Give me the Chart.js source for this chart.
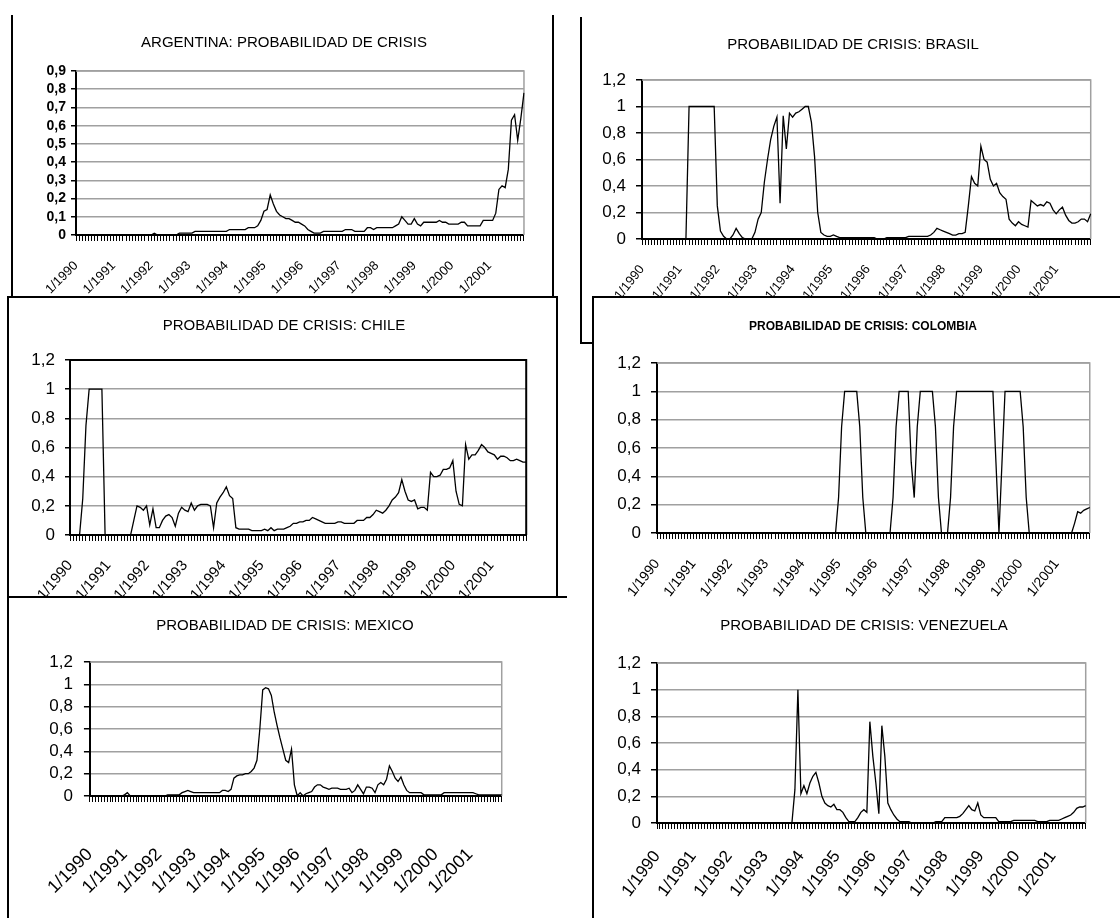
<!DOCTYPE html>
<html lang="es">
<head>
<meta charset="utf-8">
<title>Probabilidad de crisis</title>
<script src="https://cdn.jsdelivr.net/npm/chart.js@4.4.1/dist/chart.umd.min.js"></script>
<style>
  html, body { margin: 0; padding: 0; background: #fff; }
  body { width: 1120px; height: 918px; position: relative; overflow: hidden; }
  .panel { position: absolute; background: #fff; box-sizing: border-box; border: 0 solid #000; overflow: hidden; }
  .panel canvas { position: absolute; }
</style>
</head>
<body>
<script>
// ── Data (monthly, 1/1990 – 12/2001) ───────────────────────────────────────
const years = [1990, 1991, 1992, 1993, 1994, 1995, 1996, 1997, 1998, 1999, 2000, 2001]

const argentina = [
  0, 0, 0, 0, 0, 0, 0, 0, 0, 0, 0, 0,
  0, 0, 0, 0, 0, 0, 0, 0, 0, 0, 0, 0,
  0, 0.01, 0, 0, 0, 0, 0, 0, 0, 0.01, 0.01, 0.01,
  0.01, 0.01, 0.02, 0.02, 0.02, 0.02, 0.02, 0.02, 0.02, 0.02, 0.02, 0.02,
  0.02, 0.03, 0.03, 0.03, 0.03, 0.03, 0.03, 0.04, 0.04, 0.04, 0.05, 0.08,
  0.13, 0.14, 0.22, 0.17, 0.13, 0.11, 0.10, 0.09, 0.09, 0.08, 0.07, 0.07,
  0.06, 0.05, 0.03, 0.02, 0.01, 0.01, 0.01, 0.02, 0.02, 0.02, 0.02, 0.02,
  0.02, 0.02, 0.03, 0.03, 0.03, 0.02, 0.02, 0.02, 0.02, 0.04, 0.04, 0.03,
  0.04, 0.04, 0.04, 0.04, 0.04, 0.04, 0.05, 0.06, 0.10, 0.08, 0.06, 0.06,
  0.09, 0.06, 0.05, 0.07, 0.07, 0.07, 0.07, 0.07, 0.08, 0.07, 0.07, 0.06,
  0.06, 0.06, 0.06, 0.07, 0.07, 0.05, 0.05, 0.05, 0.05, 0.05, 0.08, 0.08,
  0.08, 0.08, 0.12, 0.25, 0.27, 0.26, 0.36, 0.63, 0.66, 0.52, 0.64, 0.78
]

const brasil = [
  0, 0, 0, 0, 0, 0, 0, 0, 0, 0, 0, 0,
  0, 0, 0, 1, 1, 1, 1, 1, 1, 1, 1, 1,
  0.25, 0.06, 0.02, 0, 0, 0.03, 0.08, 0.04, 0.01, 0, 0, 0,
  0.05, 0.15, 0.2, 0.43, 0.6, 0.75, 0.85, 0.92, 0.27, 0.93, 0.68, 0.95,
  0.92, 0.95, 0.96, 0.98, 1, 1, 0.88, 0.62, 0.2, 0.05, 0.03, 0.02,
  0.02, 0.03, 0.02, 0.01, 0.01, 0.01, 0.01, 0.01, 0.01, 0.01, 0.01, 0.01,
  0.01, 0.01, 0.01, 0, 0, 0, 0.01, 0.01, 0.01, 0.01, 0.01, 0.01,
  0.01, 0.02, 0.02, 0.02, 0.02, 0.02, 0.02, 0.02, 0.03, 0.05, 0.08, 0.07,
  0.06, 0.05, 0.04, 0.03, 0.03, 0.04, 0.04, 0.05, 0.25, 0.47, 0.42, 0.4,
  0.7, 0.6, 0.58, 0.45, 0.4, 0.42, 0.35, 0.32, 0.3, 0.15, 0.12, 0.1,
  0.13, 0.11, 0.1, 0.09, 0.29, 0.27, 0.25, 0.26, 0.25, 0.28, 0.27, 0.22,
  0.19, 0.22, 0.24, 0.18, 0.14, 0.12, 0.12, 0.13, 0.15, 0.15, 0.13, 0.19
]

const chile = [
  0, 0, 0, 0, 0.25, 0.75, 1, 1, 1, 1, 1, 0,
  0, 0, 0, 0, 0, 0, 0, 0, 0.1, 0.2, 0.19, 0.17,
  0.2, 0.07, 0.18, 0.05, 0.05, 0.1, 0.13, 0.14, 0.12, 0.06, 0.15, 0.19,
  0.17, 0.16, 0.22, 0.17, 0.2, 0.21, 0.21, 0.21, 0.2, 0.05, 0.22, 0.26,
  0.29, 0.33, 0.27, 0.25, 0.05, 0.04, 0.04, 0.04, 0.04, 0.03, 0.03, 0.03,
  0.03, 0.04, 0.03, 0.05, 0.03, 0.04, 0.04, 0.04, 0.05, 0.06, 0.08, 0.08,
  0.09, 0.09, 0.1, 0.1, 0.12, 0.11, 0.1, 0.09, 0.08, 0.08, 0.08, 0.08,
  0.09, 0.09, 0.08, 0.08, 0.08, 0.08, 0.1, 0.1, 0.1, 0.12, 0.12, 0.14,
  0.17, 0.16, 0.15, 0.17, 0.2, 0.24, 0.26, 0.29, 0.38, 0.3, 0.24, 0.23,
  0.24, 0.18, 0.19, 0.19, 0.17, 0.43, 0.4, 0.4, 0.41, 0.45, 0.45, 0.46,
  0.51, 0.3, 0.21, 0.2, 0.62, 0.52, 0.55, 0.55, 0.58, 0.62, 0.6, 0.57,
  0.56, 0.55, 0.52, 0.54, 0.54, 0.53, 0.51, 0.51, 0.52, 0.51, 0.5, 0.5
]

const colombia = [
  0, 0, 0, 0, 0, 0, 0, 0, 0, 0, 0, 0,
  0, 0, 0, 0, 0, 0, 0, 0, 0, 0, 0, 0,
  0, 0, 0, 0, 0, 0, 0, 0, 0, 0, 0, 0,
  0, 0, 0, 0, 0, 0, 0, 0, 0, 0, 0, 0,
  0, 0, 0, 0, 0, 0, 0, 0, 0, 0, 0, 0,
  0.25, 0.75, 1, 1, 1, 1, 1, 0.75, 0.25, 0, 0, 0,
  0, 0, 0, 0, 0, 0, 0.25, 0.75, 1, 1, 1, 1,
  0.5, 0.25, 0.75, 1, 1, 1, 1, 1, 0.75, 0.25, 0, 0,
  0, 0.25, 0.75, 1, 1, 1, 1, 1, 1, 1, 1, 1,
  1, 1, 1, 1, 0.5, 0, 0.5, 1, 1, 1, 1, 1,
  1, 0.75, 0.25, 0, 0, 0, 0, 0, 0, 0, 0, 0,
  0, 0, 0, 0, 0, 0, 0.07, 0.15, 0.14, 0.16, 0.17, 0.18
]

const mexico = [
  0, 0, 0, 0, 0, 0, 0, 0, 0, 0, 0, 0,
  0.01, 0.03, 0, 0, 0, 0, 0, 0, 0, 0, 0, 0,
  0, 0, 0, 0.01, 0.01, 0.01, 0.01, 0.01, 0.03, 0.04, 0.05, 0.04,
  0.03, 0.03, 0.03, 0.03, 0.03, 0.03, 0.03, 0.03, 0.03, 0.03, 0.05, 0.05,
  0.04, 0.06, 0.16, 0.18, 0.19, 0.19, 0.2, 0.2, 0.22, 0.25, 0.32, 0.6,
  0.95, 0.97, 0.96, 0.9, 0.75, 0.63, 0.52, 0.42, 0.32, 0.3, 0.42, 0.1,
  0, 0.03, 0, 0.02, 0.03, 0.04, 0.08, 0.1, 0.1, 0.08, 0.07, 0.06,
  0.07, 0.07, 0.07, 0.06, 0.06, 0.06, 0.07, 0.03, 0.05, 0.1, 0.06, 0.02,
  0.08, 0.08, 0.07, 0.03, 0.1, 0.12, 0.1, 0.15, 0.27, 0.22, 0.16, 0.13,
  0.17, 0.1, 0.05, 0.03, 0.03, 0.03, 0.03, 0.03, 0.01, 0.01, 0.01, 0.01,
  0.01, 0.01, 0.01, 0.03, 0.03, 0.03, 0.03, 0.03, 0.03, 0.03, 0.03, 0.03,
  0.03, 0.03, 0.02, 0.01, 0.01, 0.01, 0.01, 0.01, 0.01, 0.01, 0.01, 0.01
]

const venezuela = [
  0, 0, 0, 0, 0, 0, 0, 0, 0, 0, 0, 0,
  0, 0, 0, 0, 0, 0, 0, 0, 0, 0, 0, 0,
  0, 0, 0, 0, 0, 0, 0, 0, 0, 0, 0, 0,
  0, 0, 0, 0, 0, 0, 0, 0, 0, 0, 0.25, 1,
  0.22, 0.28, 0.22, 0.3, 0.35, 0.38, 0.3, 0.2, 0.15, 0.13, 0.12, 0.14,
  0.1, 0.1, 0.08, 0.04, 0.01, 0.01, 0.01, 0.04, 0.08, 0.1, 0.08, 0.76,
  0.5, 0.3, 0.07, 0.73, 0.5, 0.15, 0.1, 0.06, 0.03, 0.01, 0.01, 0.01,
  0.01, 0, 0, 0, 0, 0, 0, 0, 0, 0.01, 0.01, 0.01,
  0.04, 0.04, 0.04, 0.04, 0.04, 0.05, 0.07, 0.1, 0.13, 0.1, 0.09, 0.15,
  0.06, 0.04, 0.04, 0.04, 0.04, 0.04, 0.01, 0.01, 0.01, 0.01, 0.01, 0.02,
  0.02, 0.02, 0.02, 0.02, 0.02, 0.02, 0.02, 0.01, 0.01, 0.01, 0.01, 0.02,
  0.02, 0.02, 0.02, 0.03, 0.04, 0.05, 0.06, 0.08, 0.11, 0.12, 0.12, 0.13
]

// category labels: "m/yyyy", only January is printed on the axis
const months = []
years.forEach(y => { for (let m = 1; m <= 12; m++) months.push(m + '/' + y) })

// ── Layout (page pixels) ───────────────────────────────────────────────────
// bw = border widths [top, right, bottom, left]
const panels = [
  { id: 'pArg', box: [11, 15, 543, 300], bw: [0, 2, 0, 2], z: 1 },
  { id: 'pBra', box: [580, 17, 560, 327], bw: [0, 0, 2, 2], z: 1 },
  { id: 'pChi', box: [7, 296, 551, 302], bw: [2, 2, 2, 2], z: 2 },
  { id: 'pCol', box: [592, 296, 540, 640], bw: [2, 0, 0, 2], z: 2 },
  { id: 'pMex', box: [7, 596, 560, 340], bw: [2, 0, 0, 2], z: 3 }
]

// canvas = [left, top, width, height], plot = [left, top, right, bottom]
const charts = [
  { panel: 'pArg', title: 'ARGENTINA: PROBABILIDAD DE CRISIS', data: argentina, yMax: 0.9, yStep: 0.1,
    canvas: [13, 15, 539, 295], plot: [76, 71, 527, 235], titleX: 284, titleY: 43, titleSize: 15, titleWeight: 'normal',
    yFont: 14, yWeight: 'bold', yTick: 5, yPad: 5, xFont: 13, xRot: 45, xPad: 17, frame: '#a0a0a0' },
  { panel: 'pBra', title: 'PROBABILIDAD DE CRISIS: BRASIL', data: brasil, yMax: 1.2, yStep: 0.2,
    canvas: [582, 17, 538, 324], plot: [642, 80, 1097, 239], titleX: 853, titleY: 45, titleSize: 15, titleWeight: 'normal',
    yFont: 17, yWeight: 'normal', yTick: 6, yPad: 10, xFont: 13, xRot: 52, xPad: 17, frame: '#a0a0a0' },
  { panel: 'pChi', title: 'PROBABILIDAD DE CRISIS: CHILE', data: chile, yMax: 1.2, yStep: 0.2,
    canvas: [9, 298, 547, 298], plot: [70, 360, 531, 535], titleX: 284, titleY: 326, titleSize: 15, titleWeight: 'normal',
    yFont: 17, yWeight: 'normal', yTick: 5, yPad: 10, xFont: 15, xRot: 50, xPad: 16, frame: '#000' },
  { panel: 'pCol', title: 'PROBABILIDAD DE CRISIS: COLOMBIA', data: colombia, yMax: 1.2, yStep: 0.2,
    canvas: [594, 298, 526, 302], plot: [657, 363, 1107, 533], titleX: 863, titleY: 327, titleSize: 12, titleWeight: 'bold',
    yFont: 17, yWeight: 'normal', yTick: 6, yPad: 10, xFont: 14, xRot: 52, xPad: 17, frame: '#a0a0a0' },
  { panel: 'pMex', title: 'PROBABILIDAD DE CRISIS: MEXICO', data: mexico, yMax: 1.2, yStep: 0.2,
    canvas: [9, 598, 550, 320], plot: [86, 662, 530, 796], titleX: 285, titleY: 626, titleSize: 15, titleWeight: 'normal',
    yFont: 17, yWeight: 'normal', yTick: 6, yPad: 11, xFont: 18, xRot: 45, xPad: 42, frame: '#a0a0a0' },
  { panel: 'pCol', title: 'PROBABILIDAD DE CRISIS: VENEZUELA', data: venezuela, yMax: 1.2, yStep: 0.2,
    canvas: [594, 600, 526, 318], plot: [657, 663, 1110, 823], titleX: 864, titleY: 626, titleSize: 15, titleWeight: 'normal',
    yFont: 17, yWeight: 'normal', yTick: 6, yPad: 10, xFont: 17, xRot: 53, xPad: 18, frame: '#a0a0a0' }
]

// ── Helpers ────────────────────────────────────────────────────────────────
const $ = id => document.getElementById(id)
const fmt = v => String(Math.round(v * 10) / 10).replace('.', ',')
const FONT = "'Liberation Sans', Arial, sans-serif"

Chart.defaults.font.family = FONT
Chart.defaults.color = '#000'

// grey (or black) top/right edge of the plot area, like the Excel frame
const framePlugin = {
  id: 'frame',
  beforeDatasetsDraw(chart, args, opts) {
    const { ctx, chartArea: a } = chart
    ctx.save()
    ctx.strokeStyle = opts.color
    ctx.lineWidth = opts.width
    ctx.beginPath()
    ctx.moveTo(a.left, a.top)
    ctx.lineTo(a.right, a.top)
    ctx.lineTo(a.right, a.bottom)
    ctx.stroke()
    ctx.restore()
  }
}

// chart title centred on the Excel chart object, not on the plot area
const titlePlugin = {
  id: 'panelTitle',
  afterDraw(chart, args, o) {
    const ctx = chart.ctx
    ctx.save()
    ctx.font = `${o.weight} ${o.size}px ${FONT}`
    ctx.fillStyle = '#000'
    ctx.textAlign = 'center'
    ctx.textBaseline = 'middle'
    ctx.fillText(o.text, o.x, o.y)
    ctx.restore()
  }
}

panels.forEach(p => {
  const d = document.createElement('div')
  d.className = 'panel'
  d.id = p.id
  d.style.left = p.box[0] + 'px'
  d.style.top = p.box[1] + 'px'
  d.style.width = p.box[2] + 'px'
  d.style.height = p.box[3] + 'px'
  d.style.borderWidth = p.bw.map(w => w + 'px').join(' ')
  d.style.zIndex = p.z
  document.body.appendChild(d)
})

// ── Charts ─────────────────────────────────────────────────────────────────
function makeChart(c) {
  const p = panels.find(q => q.id === c.panel)
  const [cl, ct, cw, chh] = c.canvas
  const [pl, pt, pr, pb] = c.plot

  const canvas = document.createElement('canvas')
  canvas.width = cw
  canvas.height = chh
  canvas.style.width = cw + 'px'
  canvas.style.height = chh + 'px'
  canvas.style.left = (cl - p.box[0] - p.bw[3]) + 'px'
  canvas.style.top = (ct - p.box[1] - p.bw[0]) + 'px'
  $(p.id).appendChild(canvas)

  const yW = pl - cl
  const xH = ct + chh - pb

  return new Chart(canvas, {
    type: 'line',
    data: {
      labels: months,
      datasets: [{
        data: c.data,
        borderColor: '#000',
        borderWidth: 1.3,
        pointRadius: 0,
        tension: 0,
        fill: false
      }]
    },
    plugins: [framePlugin, titlePlugin],
    options: {
      responsive: false,
      animation: false,
      events: [],
      layout: { padding: { left: 0, right: cl + cw - pr, top: pt - ct, bottom: 0 } },
      plugins: {
        legend: { display: false },
        tooltip: { enabled: false },
        frame: { color: c.frame, width: c.frame === '#000' ? 2 : 1.5 },
        panelTitle: { text: c.title, x: c.titleX - cl, y: c.titleY - ct, size: c.titleSize, weight: c.titleWeight }
      },
      scales: {
        x: {
          offset: false,
          afterFit: s => { s.height = xH },
          border: { color: '#000', width: 2 },
          grid: { drawOnChartArea: false, tickLength: 6, color: '#000', tickColor: '#000', tickWidth: 1 },
          ticks: {
            autoSkip: false, maxRotation: c.xRot, minRotation: c.xRot,
            padding: c.xPad, color: '#000', font: { size: c.xFont },
            callback: function (v, i) { return i % 12 === 0 ? this.getLabelForValue(v) : '' }
          }
        },
        y: {
          min: 0, max: c.yMax,
          afterFit: s => { s.width = yW },
          border: { color: '#000', width: 2 },
          grid: {
            color: ctx => (ctx.tick && ctx.tick.value === 0 ? 'rgba(0,0,0,0)' : '#a0a0a0'),
            lineWidth: 1.5, tickLength: c.yTick, tickColor: '#000', tickWidth: 1.5
          },
          ticks: {
            autoSkip: false, stepSize: c.yStep, padding: c.yPad, color: '#000',
            font: { size: c.yFont, weight: c.yWeight }, callback: v => fmt(v)
          }
        }
      }
    }
  })
}

charts.forEach(makeChart)
</script>
</body>
</html>
